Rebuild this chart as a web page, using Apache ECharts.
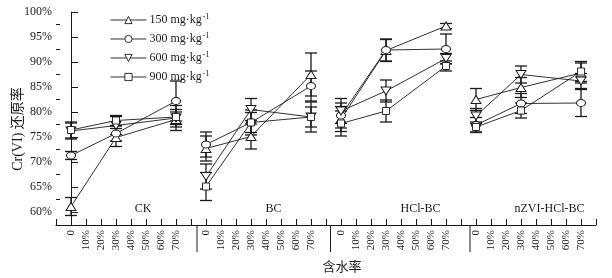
<!DOCTYPE html>
<html>
<head>
<meta charset="utf-8">
<script src="https://cdn.jsdelivr.net/npm/echarts@6/dist/echarts.min.js"></script>
<style>
  html, body { margin: 0; background: #fff; }
  #chart { width: 612px; height: 278px; }
</style>
</head>
<body>
<div id="chart"></div>
<script>
// 分组（材料）与含水率
const groups = ['CK', 'BC', 'HCl-BC', 'nZVI-HCl-BC'];
const moisture = [0, 30, 70];
const tickLabels = ['0', '10%', '20%', '30%', '40%', '50%', '60%', '70%'];
const yTicks = [60, 65, 70, 75, 80, 85, 90, 95, 100];
const yMinorTicks = [62.5, 67.5, 72.5, 77.5, 82.5, 87.5, 92.5, 97.5];
const concentrations = ['150', '300', '600', '900'];

// Cr(VI) 还原率 (%)：每组依次为 0、30%、70% 含水率
const r150 = [61.1, 74.9, 78.5, 72.7, 75.1, 87.5, 78.6, 92.3, 97.2, 82.5, 84.9, 87.8];
const r300 = [71.3, 75.7, 82.2, 73.5, 77.9, 85.2, 79.3, 92.4, 92.6, 77.4, 81.7, 81.8];
const r600 = [76.2, 77.3, 78.8, 67.1, 80.5, 79.0, 80.2, 84.2, 90.7, 79.2, 87.5, 86.2];
const r900 = [76.4, 78.3, 79.0, 65.1, 77.9, 79.0, 77.7, 80.2, 89.2, 77.0, 80.3, 88.1];

// 标准差 (%)
const e150 = [1.8, 1.8, 1.5, 2.5, 2.5, 4.3, 2.5, 2.2, 0.5, 2.2, 2.0, 2.0];
const e300 = [0.8, 1.5, 4.0, 2.5, 2.0, 3.0, 2.5, 2.2, 3.0, 1.5, 2.0, 2.7];
const e600 = [1.6, 1.8, 2.5, 2.5, 2.2, 3.0, 2.5, 2.2, 1.0, 1.5, 1.7, 1.5];
const e900 = [1.6, 1.0, 1.5, 2.8, 2.5, 2.0, 2.5, 2.2, 1.0, 1.0, 1.5, 2.0];

// 横轴：每组占 9 个刻度位（8 个含水率 + 1 个间隔）
const slotsPerGroup = 9;
const groupBreaks = [8.4, 17.3, 26.6];
const groupLabelSlots = [4.8, 13.5, 23.3, 31.9];

const serif = 'Liberation Serif, Times New Roman, Noto Sans CJK SC, serif';
const ink = '#1a1a1a';

const valueSets = [r150, r300, r600, r900];
const errSets = [e150, e300, e600, e900];
// 空心标记：白色填充 + 细边框
const symbols = ['triangle', 'circle', 'triangle', 'rect'];
const symbolRotates = [0, 0, 180, 0];
const symbolSizes = [[10, 8], [9, 7], [10, 8], [7, 7]];

function slotOf(i) {
  const g = Math.floor(i / moisture.length);
  return g * slotsPerGroup + moisture[i % moisture.length] / 10;
}

function lineData(vals) {
  const out = [];
  vals.forEach((v, i) => {
    out.push([slotOf(i), v]);
    if (i % moisture.length === moisture.length - 1) out.push([slotOf(i) + 1, '-']);
  });
  return out;
}

const errData = [];
valueSets.forEach((vals, s) => {
  vals.forEach((v, i) => {
    errData.push([slotOf(i), v - errSets[s][i], v + errSets[s][i]]);
  });
});

const labelSlots = [];
groups.forEach((g, gi) => {
  tickLabels.forEach((t, k) => labelSlots.push(gi * slotsPerGroup + k));
});

const chart = echarts.init(document.getElementById('chart'), null, { renderer: 'canvas' });

const lineSeries = concentrations.map((c, s) => ({
  name: c,
  type: 'line',
  data: lineData(valueSets[s]),
  connectNulls: false,
  symbol: symbols[s],
  symbolRotate: symbolRotates[s],
  symbolSize: symbolSizes[s],
  showAllSymbol: true,
  lineStyle: { color: ink, width: 0.9 },
  itemStyle: { color: '#fff', borderColor: ink, borderWidth: 0.9 },
  z: 4,
  animation: false
}));

const option = {
  animation: false,
  grid: { left: 56, right: 16, top: 12, bottom: 53 },
  legend: {
    data: concentrations,
    orient: 'vertical',
    left: 110,
    top: 13,
    padding: 0,
    itemWidth: 36,
    itemHeight: 9,
    itemGap: 6,
    selectedMode: false,
    itemStyle: { borderWidth: 0.9, borderColor: ink, color: '#fff' },
    lineStyle: { width: 0.9, color: ink },
    formatter: name => `{t|${name} mg·kg}{s|-1}`,
    textStyle: {
      color: ink,
      padding: [0, 0, 0, -2],
      rich: {
        t: { fontFamily: serif, fontSize: 12, color: ink },
        s: { fontFamily: serif, fontSize: 8, color: ink, verticalAlign: 'top', padding: [0, 0, 6, 1] }
      }
    }
  },
  xAxis: {
    type: 'value',
    min: -1,
    max: 35,
    interval: 1,
    splitLine: { show: false },
    axisLine: { lineStyle: { color: ink, width: 1 } },
    axisTick: { inside: true, length: 6, lineStyle: { color: ink } },
    axisLabel: {
      customValues: labelSlots,
      rotate: 90,
      margin: 5,
      fontFamily: serif,
      fontSize: 11,
      color: ink,
      formatter: v => tickLabels[Math.round(v) % slotsPerGroup]
    }
  },
  yAxis: [{
    type: 'value',
    min: 57.4,
    max: 100,
    splitLine: { show: false },
    axisLine: { show: true, lineStyle: { color: ink, width: 1 } },
    axisTick: { show: true, inside: true, length: 7, customValues: yTicks, lineStyle: { color: ink } },
    axisLabel: {
      customValues: yTicks,
      margin: 4,
      fontFamily: serif,
      fontSize: 12,
      color: ink,
      formatter: v => v + '%'
    }
  }, {
    type: 'value',
    position: 'left',
    min: 57.4,
    max: 100,
    splitLine: { show: false },
    axisLine: { show: false },
    axisTick: { show: true, inside: true, length: 4, customValues: yMinorTicks, lineStyle: { color: ink } },
    axisLabel: { show: false }
  }],
  graphic: [{
    type: 'text',
    x: 18,
    y: 129,
    rotation: Math.PI / 2,
    style: {
      text: 'Cr(VI) 还原率',
      font: '14px ' + serif,
      fill: ink,
      align: 'center',
      verticalAlign: 'middle'
    }
  }, {
    type: 'text',
    x: 342,
    y: 268,
    style: {
      text: '含水率',
      font: '13px ' + serif,
      fill: ink,
      align: 'center',
      verticalAlign: 'middle'
    }
  }],
  series: [
    ...lineSeries,
    {
      name: 'err',
      type: 'custom',
      data: errData,
      encode: { x: 0, y: [1, 2] },
      z: 2,
      renderItem: (params, api) => {
        const x = api.value(0);
        const lo = api.coord([x, api.value(1)]);
        const hi = api.coord([x, api.value(2)]);
        const w = 6;
        const st = { stroke: ink, lineWidth: 1.3 };
        return {
          type: 'group',
          children: [
            { type: 'line', shape: { x1: lo[0], y1: lo[1], x2: hi[0], y2: hi[1] }, style: st },
            { type: 'line', shape: { x1: lo[0] - w, y1: lo[1], x2: lo[0] + w, y2: lo[1] }, style: st },
            { type: 'line', shape: { x1: hi[0] - w, y1: hi[1], x2: hi[0] + w, y2: hi[1] }, style: st }
          ]
        };
      }
    },
    {
      name: 'sep',
      type: 'custom',
      clip: false,
      data: groupBreaks.map(b => [b, 57.4]),
      renderItem: (params, api) => {
        const p = api.coord([api.value(0), api.value(1)]);
        return {
          type: 'line',
          shape: { x1: p[0], y1: p[1], x2: p[0], y2: p[1] + 27 },
          style: { stroke: ink, lineWidth: 1 }
        };
      }
    },
    {
      name: 'groupLabel',
      type: 'custom',
      data: groups.map((g, i) => [groupLabelSlots[i], 60.6, g]),
      renderItem: (params, api) => {
        const p = api.coord([api.value(0), api.value(1)]);
        return {
          type: 'text',
          x: p[0],
          y: p[1],
          style: {
            text: groups[params.dataIndex],
            font: '12px ' + serif,
            fill: ink,
            align: 'center',
            verticalAlign: 'middle'
          }
        };
      }
    }
  ]
};

chart.setOption(option);
</script>
</body>
</html>
